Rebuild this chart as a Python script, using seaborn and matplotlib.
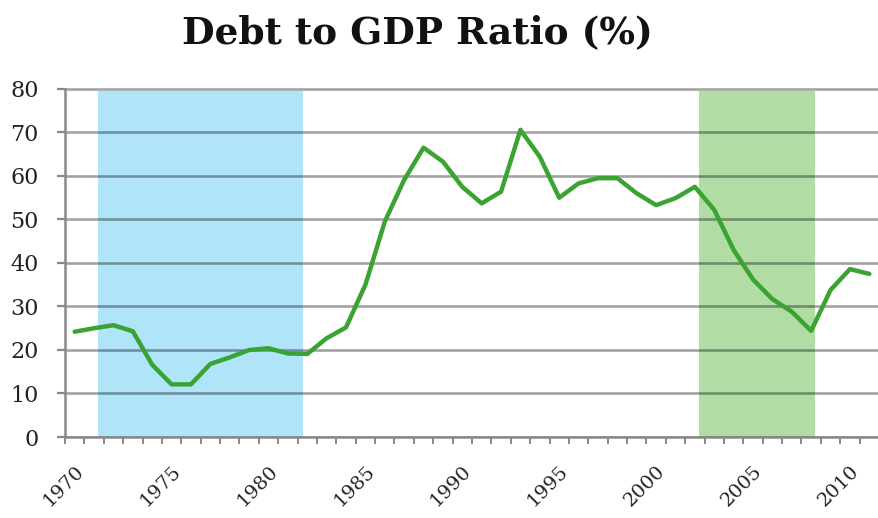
import matplotlib
matplotlib.use("Agg")
import matplotlib.pyplot as plt
import seaborn as sns
import pandas as pd
import numpy as np

# Debt to GDP ratio (%) by year
years = list(range(1970, 2012))
ratios = [24.2, 25.0, 25.7, 24.3, 16.6, 12.1, 12.1, 16.8, 18.3, 20.0,
          20.4, 19.2, 19.1, 22.7, 25.2, 35.0, 49.5, 59.1, 66.5, 63.3,
          57.5, 53.7, 56.4, 70.6, 64.4, 55.0, 58.3, 59.5, 59.5, 56.0,
          53.3, 54.9, 57.5, 52.2, 43.0, 36.2, 31.7, 28.8, 24.4, 33.8,
          38.6, 37.5]

# highlighted periods (start, end in years)
period_starts = [1971.2, 2002.2]
period_ends = [1981.8, 2008.2]
period_colors = ["#b0e4f8", "#b1dca4"]

tick_years = [1970, 1975, 1980, 1985, 1990, 1995, 2000, 2005, 2010]
y_ticks = [0, 10, 20, 30, 40, 50, 60, 70, 80]

df = pd.DataFrame({"year": years, "ratio": ratios})

sns.set_theme(style="white")
plt.rcParams["font.family"] = ["DejaVu Serif"]

W, H = 879, 518
fig = plt.figure(figsize=(W / 100, H / 100), dpi=100)
ax = fig.add_axes([65 / W, (H - 437) / H, (W - 65) / W, (437 - 86.8) / H])

for s, e, c in zip(period_starts, period_ends, period_colors):
    ax.axvspan(s, e, ymin=0, ymax=79.6 / 80.5, color=c, lw=0, zorder=0.2)

sns.lineplot(data=df, x="year", y="ratio", ax=ax, color="#3ba332",
             linewidth=3.2, zorder=3)
ax.lines[0].set_solid_joinstyle("round")
ax.lines[0].set_solid_capstyle("round")

ax.set_xlim(1969.5, 1969.5 + (W - 65) / 19.47)
ax.set_ylim(0, 80.5)

ax.set_yticks(y_ticks)
ax.set_yticklabels([str(v) for v in y_ticks])
ax.yaxis.grid(True, color="black", alpha=0.36, linewidth=1.9)
ax.xaxis.grid(False)
ax.set_axisbelow(True)
for gl in ax.get_ygridlines():
    gl.set_zorder(0.5)

ax.set_xticks(tick_years)
ax.set_xticklabels([str(y) for y in tick_years], rotation=45, ha="right",
                   rotation_mode="anchor")
ax.set_xticks(np.arange(1969.5, 2012.0, 1.0), minor=True)
ax.tick_params(axis="x", which="major", length=0, pad=18, labelsize=14,
               labelcolor="#222222")
ax.tick_params(axis="x", which="minor", length=5, width=1.4, color="#888888",
               direction="out", bottom=True)
ax.tick_params(axis="y", which="major", length=6, width=1.6, color="#888888",
               direction="out", left=True, pad=13, labelsize=16,
               labelcolor="#222222")

for side in ["top", "right"]:
    ax.spines[side].set_visible(False)
for side in ["left", "bottom"]:
    ax.spines[side].set_color("#888888")
    ax.spines[side].set_linewidth(1.8)
ax.spines["left"].set_bounds(0, 80)

ax.set_xlabel("")
ax.set_ylabel("")

fig.text(0.475, (H - 33) / H, "Debt to GDP Ratio (%)", ha="center",
         va="center", fontsize=27, fontweight="bold", color="#111111")

fig.savefig("out.png", dpi=100)
